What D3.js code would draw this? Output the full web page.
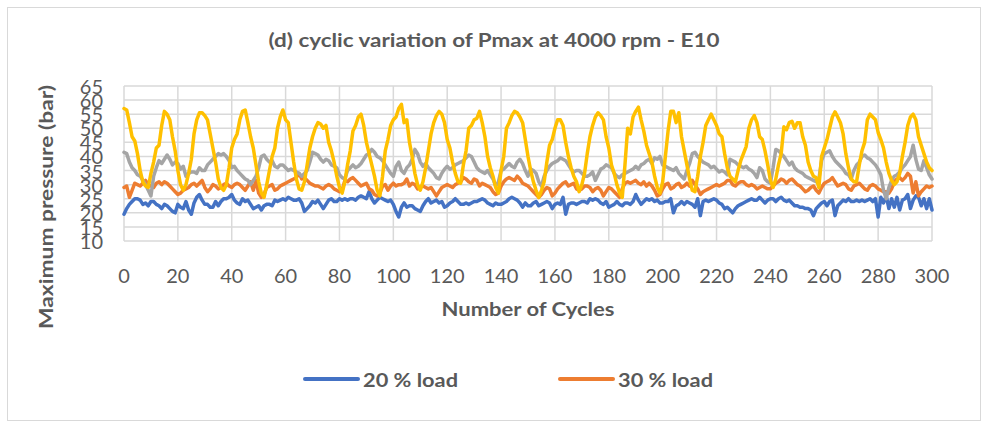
<!DOCTYPE html>
<html>
<head>
<meta charset="utf-8">
<script src="https://cdn.jsdelivr.net/npm/d3@7"></script>
<style>
  body { margin: 0; background: #fff; }
  text { font-family: Lato, "Open Sans", sans-serif; fill: #595959; }
</style>
</head>
<body>
<div id="chart"></div>
<script>
// Pmax per cycle (bar), cycles 0..300
const load20 = [
  19.5,21.5,23,24,25,25,24.5,23,23.5,22.5,
  24,24,23,22.5,21.5,23,22.5,21.5,20.5,20,
  23,22,21.5,24,21,19.5,23.5,25.5,26.5,24.5,
  23,23,22,22,24,22.5,24,25,25,25.5,
  26.5,24.5,23.5,23,25,24,24.5,23,21.5,22,
  22.5,21,22.5,23,23,22.5,24.5,24,24.5,25,
  24.5,25.5,25,24.5,24.5,25,23.5,20.5,21.5,22.5,
  24,23.5,24.5,23,21.5,23,24.5,25,24,24,
  25,24.5,25,24.5,25,25,24.5,25.5,26,25.5,
  25,27.5,25,23.5,24.5,25.5,25,24.5,24,24.5,
  23,20.5,18.5,22,23.5,22,22.5,22.5,21.5,21,
  20.5,22.5,24,25,23.5,24,24.5,23.5,24,22,
  22.5,23.5,24,25,24,23,23,23.5,23,23.5,
  24,24,24.5,25,24.5,23.5,23,22.5,23.5,23,
  23,23.5,24,25,25.5,25,24.5,23.5,22,23.5,
  22.5,22.5,23.5,24,22.5,23,23.5,24,23.5,21.5,
  23,23.5,23,25.5,19.5,23,23.5,23.5,23,23.5,
  24,24,23.5,25,24.5,25,24.5,23.5,23,24,
  22,22.5,23,24,23,22.5,23.5,23.5,23,24,
  26.5,24.5,23,24,25,24.5,25,24,24.5,23.5,
  23.5,24,24,25,20,22.5,23,24,23,24,
  23.5,23,22,25,19,24,24.5,24,24.5,25,
  24.5,23.5,23,21.5,22,21,20,21.5,22.5,23,
  23.5,24,24.5,25,24.5,24.5,25.5,24.5,23.5,24.5,
  25,25,24,25,25.5,24.5,24,24.5,23.5,22.5,
  22.5,22,22,21.5,21.5,21,19,21.5,22.5,23.5,
  24,22.5,24,24.5,19,22.5,23.5,24.5,24,25,
  24,24,24.5,24,24.5,24,24.5,25,24,25,
  18.5,25.5,23.5,26,21.5,25,22,25.5,21,24.5,
  25,26.5,21.5,24.5,26,25.5,22.5,25,21.5,25,
  21
]

const load30 = [
  29,29.5,25.5,28,30.5,30,29.5,30.5,31.5,30,
  29.5,29,30.5,31,30,31,30.5,29.5,28.5,27.5,
  26.5,27,28,28.5,29,30,30.5,29.5,30.5,31.5,
  29,27.5,28.5,30,29.5,28.5,29,30,30.5,29.5,
  29,30,30.5,30,29,28,29.5,31,28,31.5,
  27,25.5,26.5,29,29.5,30,28,28.5,29.5,30,
  30.5,31,31.5,32,32.5,34,32,32.5,31.5,30.5,
  30,29.5,29.5,29,28.5,29.5,30,29.5,28.5,28,
  27.5,28,31.5,31,32,32.5,31.5,30.5,29.5,30,
  30.5,28.5,28,26.5,26,27,29.5,30,28,29.5,
  30.5,29.5,30,30,30.5,32,29.5,30.5,30,28.5,
  29,29.5,29,28.5,29,27.5,26,27.5,29,29.5,
  30,29.5,29,30,30.5,31,32.5,32,31,30.5,
  32,31.5,29.5,30.5,30,29.5,29,27.5,26.5,27,
  29.5,31,32,32.5,32,31.5,33,32,30.5,30,
  29.5,28.5,27.5,26.5,25.5,26.5,28,29,28.5,26,
  27,28.5,29.5,30.5,31,29.5,30,30.5,28.5,28,
  28.5,29.5,29.5,29,27.5,28.5,29,28,26,27.5,
  29,28.5,27.5,26.5,25.5,28.5,30.5,31,30.5,31,
  31.5,30.5,30,31,29.5,30.5,29.5,28,26,26.5,
  28.5,30,30.5,28.5,29,30,30.5,29,29.5,30.5,
  29.5,31.5,30,28.5,26.5,27.5,28,28.5,29,29.5,
  30,29.5,30,30.5,31.5,31.5,30,29.5,30.5,31,
  31,30,29.5,30,29.5,28.5,29,29.5,29,28.5,
  28.5,29.5,30.5,31,32,31.5,30.5,31.5,32,31,
  30,29.5,28.5,27.5,28,29,29.5,28,27,29,
  30.5,31,31.5,32.5,31,29.5,30,30.5,30,28.5,
  28,29.5,30,30.5,29.5,28.5,28,29.5,30,29.5,
  28.5,28,27.5,27.5,27,28.5,31,32,32.5,31.5,
  32.5,34,33,27,31,26,27.5,28.5,29.5,29,
  29.5
]

const load40 = [
  41.5,41,38,36,35,33.5,33,31.5,30,28,
  26,33,36,38.5,37.5,39,40.5,39,37,38,
  37.5,35.5,36.5,33,34,34.5,34.5,34,36,35,
  35,37,38,39,40,41,40.5,41,40,38.5,
  36,36.5,35,34,33,32,31.5,30,31.5,33,
  36,40,40.5,39,38,38.5,36.5,36,37,37,
  36,35,35.5,35,34.5,34,33,34,35,38,
  41.5,41,40.5,39,38,39,38.5,37,36.5,36,
  33.5,32.5,32,35,36,37,36,36.5,37.5,39,
  40.5,41,42.5,41.5,40,39.5,38.5,37,35.5,34,
  33,36.5,38,35,34,36,37,39,42.5,41,
  38,36.5,37.5,36,35,34,32.5,32,34,35.5,
  36.5,35.5,36,37,37.5,38,38.5,39.5,40.5,40,
  38,36,35,34.5,34,35,33.5,32,29.5,31,
  35,35.5,36.5,37.5,36.5,36,38,39,37.5,35,
  33,35.5,35,34,31,29.5,33,35,36.5,37.5,
  38,38.5,39.5,39,38.5,37,35.5,34.5,35,35,
  34,33,33,33.5,34.5,31.5,33.5,35.5,36,37,
  36.5,36,34,33,32.5,33.5,34,34.5,35,35.5,
  36.5,35.5,37,37.5,38.5,39,37.5,39.5,39,40,
  37,36.5,36,35.5,35,36,34,33,32,35,
  37.5,41,41.5,40,39,38,37.5,37,36,36.5,
  35.5,34.5,35,34.5,33.5,39,38.5,38,37,36.5,
  36,36.5,35.5,35,34,32.5,36,35,32,31,
  30.5,36,42.5,42,41,40,38.5,37,38,36,
  35,34.5,34,33,32.5,32,31.5,31,32,38.5,
  41,41.5,42,40,38.5,37.5,36.5,35.5,34,33.5,
  32,35,37,38,40,40.5,39.5,39,38,37,
  35.5,33.5,28,25,29,31.5,33,33.5,34.5,36,
  37,38.5,40,44,39,35.5,35,38.5,36,33.5,
  32
]

const load50 = [
  57,56.5,52,47,45.5,41,35,31,29.5,29,
  34,38,43,44,51,56,55,53,47,42,
  35,30,28,30,34,39,48,53,55.5,55.5,
  54.5,53,48,43,38,32,29,28,30,36,
  43,46,48,53,56,56.5,52,47,43,37,
  31,27,25.5,30,35,40,43,50,54,56.5,
  53,52,45,38,32,28.5,28,31,37,43,
  47,50,52,51.5,50,51,45,42,38,33,
  29,27,31,37,42,49,51,54,55,51,
  45,41,37,33,28,26,33,42,46,51,
  53,54,57,58.5,52,53,45,40,34,30,
  28,31,36,42,48,52,54.5,56,55,52,
  46,43,38,34,31,30.5,37,42,50,51,
  53,53.5,56,52,47,40,36,33,29,27,
  35,40,50,52,54.5,56,55.5,54,52,46,
  40,35,31,28,25.5,28,31,38,44,46,
  50,53,53,51,45,40,36,33,31,27.5,
  30,34,41,47,51,54,55.5,54.5,53,47,
  43,37,34,30,27,25.5,37,50,48,54,
  56,57.5,53,49,44,41,38,33,29,27,
  31,40,49,56,56,52,55.5,47,42,37,
  32,28,27.5,33,40,45,51,53,55,53,
  51,48,47,41,36,33,32,31,35,38.5,
  41,43.5,50,53,54.5,52,47,46,42,37,
  31.5,29,32,37,41,50.5,49.5,52,52.5,50,
  52,52,47,44,38,35,33,32.5,29,40,
  43,46,50,54,55.8,54,52,48,41,36,
  32,31,31,37,42,45,53,55,54,53,
  48.5,46,43,38,34,31.5,30,31,34,40,
  45,51,54,55,53,47,44,41,38,36,
  35
]

const seriesNames = ['20 % load', '30 % load', '40 % load', '50 % load']
const seriesColors = ['#4472c4', '#ed7d31', '#a5a5a5', '#ffc000']
const legendNames = ['20 % load', '30 % load']
const xTicks = d3.range(0, 301, 20)
const yTicks = d3.range(10, 66, 5)

const W = 988, H = 430
const plot = { left: 124, right: 932, top: 86, bottom: 241 }

const svg = d3.select('#chart').append('svg')
  .attr('width', W).attr('height', H)

svg.append('rect')
  .attr('x', 7.5).attr('y', 7.5).attr('width', 973).attr('height', 413)
  .attr('fill', '#fff').attr('stroke', '#d9d9d9')

const x = d3.scaleLinear().domain([0, 300]).range([plot.left, plot.right])
const y = d3.scaleLinear().domain([10, 65]).range([plot.bottom, plot.top])

// gridlines
const grid = svg.append('g').attr('stroke', '#d9d9d9').attr('stroke-width', 1.5)
grid.selectAll('.h').data(yTicks).join('line')
  .attr('x1', plot.left).attr('x2', plot.right)
  .attr('y1', d => y(d)).attr('y2', d => y(d))
grid.selectAll('.v').data(xTicks).join('line')
  .attr('y1', plot.top).attr('y2', plot.bottom)
  .attr('x1', d => x(d)).attr('x2', d => x(d))

// y tick labels (crowded, they overlap like in the source)
svg.append('g').selectAll('text').data(yTicks).join('text')
  .attr('x', 103).attr('y', d => y(d))
  .attr('text-anchor', 'end').attr('dominant-baseline', 'central')
  .attr('font-size', 20)
  .text(d => d)

svg.append('g').selectAll('text').data(xTicks).join('text')
  .attr('x', d => x(d)).attr('y', 275)
  .attr('text-anchor', 'middle').attr('dominant-baseline', 'central')
  .attr('font-size', 20)
  .text(d => d)

// series
const line = d3.line().x((d, i) => x(i)).y(d => y(d))
const series = [load20, load30, load40, load50]
svg.append('g').selectAll('path').data(series).join('path')
  .attr('d', line)
  .attr('fill', 'none')
  .attr('stroke', (d, i) => seriesColors[i])
  .attr('stroke-width', 3.5)
  .attr('stroke-linejoin', 'round')
  .attr('stroke-linecap', 'round')

// titles
svg.append('text')
  .attr('x', 494).attr('y', 39)
  .attr('text-anchor', 'middle').attr('dominant-baseline', 'central')
  .attr('font-size', 19).attr('font-weight', 'bold')
  .attr('textLength', 451).attr('lengthAdjust', 'spacingAndGlyphs')
  .text('(d) cyclic variation of Pmax at 4000 rpm - E10')

svg.append('text')
  .attr('x', 528).attr('y', 308)
  .attr('text-anchor', 'middle').attr('dominant-baseline', 'central')
  .attr('font-size', 19).attr('font-weight', 'bold')
  .attr('textLength', 173).attr('lengthAdjust', 'spacingAndGlyphs')
  .text('Number of Cycles')

svg.append('text')
  .attr('transform', 'translate(45,207) rotate(-90)')
  .attr('text-anchor', 'middle').attr('dominant-baseline', 'central')
  .attr('font-size', 19).attr('font-weight', 'bold')
  .attr('textLength', 244).attr('lengthAdjust', 'spacingAndGlyphs')
  .text('Maximum pressure (bar)')

// legend (only the first two series are listed)
const legendX = [305, 560]
const legend = svg.append('g').selectAll('g').data(legendNames).join('g')
  .attr('transform', (d, i) => `translate(${legendX[i]},379)`)
legend.append('line')
  .attr('x1', 0).attr('x2', 53)
  .attr('stroke', (d, i) => seriesColors[i])
  .attr('stroke-width', 4).attr('stroke-linecap', 'round')
legend.append('text')
  .attr('x', 58).attr('dominant-baseline', 'central')
  .attr('font-size', 19).attr('font-weight', 'bold')
  .attr('textLength', 95).attr('lengthAdjust', 'spacingAndGlyphs')
  .text(d => d)
</script>
</body>
</html>
